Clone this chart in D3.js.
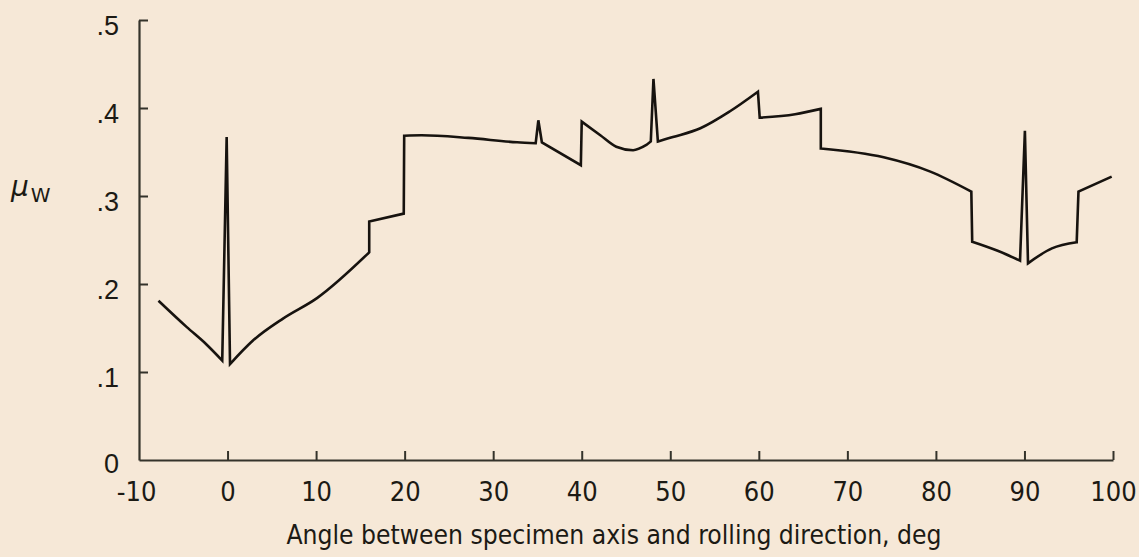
<!DOCTYPE html>
<html>
<head>
<meta charset="utf-8">
<script src="https://cdn.jsdelivr.net/npm/d3@7"></script>
<style>
  html, body { margin: 0; padding: 0; background: #f6e8d7; }
  svg { display: block; }
  text { fill: #1c1a14; }
</style>
</head>
<body>
<svg id="chart" width="1139" height="557"></svg>
<script>
// ---- data ----
const angle = [-7.8, -4.6, -2.35, -0.6, -0.1, 0.28, 2.9, 6.3, 10.1, 16.0, 16.0, 19.9, 19.95,
  21.9, 27.2, 32.7, 34.8, 35.1, 35.5, 39.9, 40.0, 42.1, 43.9, 45.8, 47.3, 47.8, 48.1, 48.6, 50.3,
  53.4, 56.7, 59.9, 60.1, 64.1, 67.0, 67.0, 74.1, 79.3, 84.0, 84.1, 86.9, 89.5, 90.05, 90.4, 93.1,
  95.9, 96.1, 99.85];
const mu = [0.181, 0.151, 0.131, 0.113, 0.367, 0.109, 0.136, 0.161, 0.184, 0.236, 0.271, 0.280, 0.3685,
  0.369, 0.366, 0.361, 0.360, 0.386, 0.361, 0.335, 0.3845, 0.369, 0.356, 0.352, 0.358, 0.362, 0.433, 0.362, 0.367,
  0.377, 0.396, 0.4185, 0.389, 0.393, 0.399, 0.354, 0.344, 0.328, 0.305, 0.248, 0.238, 0.2265, 0.374, 0.2235, 0.2405,
  0.2474, 0.305, 0.322];
const xTicks = [-10, 0, 10, 20, 30, 40, 50, 60, 70, 80, 90, 100];
const xTickLabels = ["-10", "0", "10", "20", "30", "40", "50", "60", "70", "80", "90", "100"];
const yTicks = [0, 0.1, 0.2, 0.3, 0.4, 0.5];
const yTickLabels = ["0", ".1", ".2", ".3", ".4", ".5"];
const xTitle = "Angle between specimen axis and rolling direction, deg";

// ---- layout ----
const svg = d3.select("#chart");
const x = d3.scaleLinear().domain([-10, 100]).range([139, 1113]);
const y = d3.scaleLinear().domain([0, 0.5]).range([460, 20]);
const axisColor = "#34332b";
const font = "'Liberation Sans Narrow', 'DejaVu Sans Condensed', 'Liberation Sans', sans-serif";

// x axis
const xAxis = d3.axisBottom(x).tickValues(xTicks).tickSize(-9).tickSizeOuter(0)
  .tickFormat((d, i) => xTickLabels[i]);
const gx = svg.append("g").attr("transform", `translate(0,${y(0)})`).call(xAxis);
gx.select(".domain").attr("stroke", axisColor).attr("stroke-width", 2.2);
gx.selectAll(".tick line").attr("stroke", axisColor).attr("stroke-width", 2);
gx.selectAll(".tick").filter(d => d === -10).select("line").remove();
gx.selectAll(".tick text")
  .attr("y", 0).attr("dy", 0)
  .attr("transform", "translate(0,41)")
  .style("font-family", font).style("font-size", "27px").attr("fill", "#1c1a14");
gx.selectAll(".tick").filter(d => d === -10).select("text").attr("x", -3);

// y axis
const yAxis = d3.axisLeft(y).tickValues(yTicks).tickSize(-9).tickSizeOuter(0)
  .tickFormat((d, i) => yTickLabels[i]);
const gy = svg.append("g").attr("transform", `translate(${x(-10)},0)`).call(yAxis);
gy.select(".domain").attr("stroke", axisColor).attr("stroke-width", 2.2);
gy.selectAll(".tick line").attr("stroke", axisColor).attr("stroke-width", 2);
gy.selectAll(".tick").filter(d => d === 0).select("line").remove();
gy.selectAll(".tick text")
  .attr("x", -20).attr("dy", "0.52em")
  .style("font-family", "'Liberation Sans', sans-serif").style("font-size", "27px").attr("fill", "#1c1a14");
gy.selectAll(".tick").filter(d => d === 0).select("text").attr("x", -20).attr("dy", "0.45em");

// axis titles
svg.append("text")
  .attr("x", 614).attr("y", 544)
  .attr("text-anchor", "middle")
  .attr("textLength", 655).attr("lengthAdjust", "spacingAndGlyphs")
  .style("font-family", font).style("font-size", "27px")
  .text(xTitle);

const yl = svg.append("text").attr("x", 11).attr("y", 196)
  .style("font-family", "'DejaVu Sans', sans-serif");
yl.append("tspan").style("font-size", "28px").style("font-style", "italic").text("μ");
yl.append("tspan").attr("dx", 2).attr("dy", 6).style("font-size", "20px").text("W");

// curve: smooth runs joined by straight jumps/spikes
const pts = angle.map((a, i) => [a, mu[i]]);
const smooth = d3.line().x(d => x(d[0])).y(d => y(d[1])).curve(d3.curveMonotoneX);
const runs = [];
let cur = [pts[0]];
for (let i = 1; i < pts.length; i++) {
  if (pts[i][0] - pts[i - 1][0] < 0.6) { runs.push(cur); cur = [pts[i]]; }
  else cur.push(pts[i]);
}
runs.push(cur);
const d = runs.map((r, k) => {
  const s = r.length > 1 ? smooth(r) : `M${x(r[0][0])},${y(r[0][1])}`;
  return k === 0 ? s : "L" + s.slice(1);
}).join("");
svg.append("path")
  .attr("d", d)
  .attr("fill", "none")
  .attr("stroke", "#17130f")
  .attr("stroke-width", 2.6)
  .attr("stroke-linejoin", "miter")
  .attr("stroke-miterlimit", 3);
</script>
</body>
</html>
